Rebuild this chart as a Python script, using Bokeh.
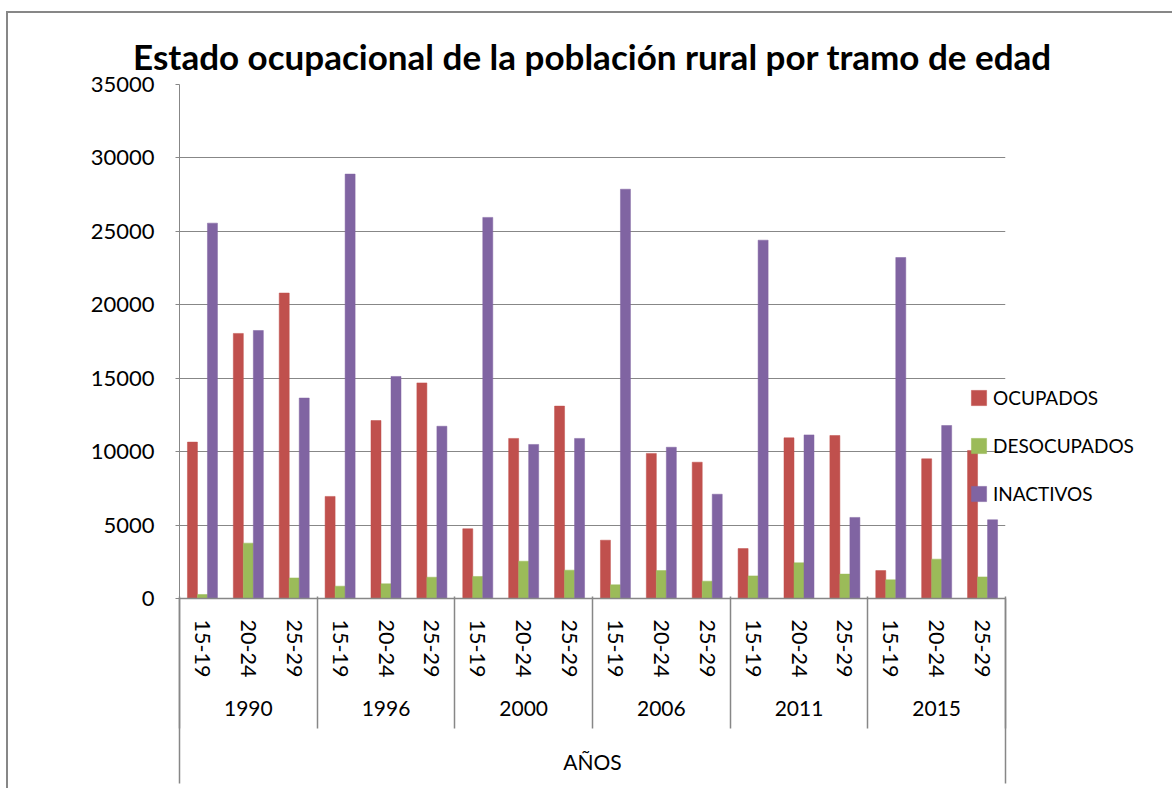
from bokeh.plotting import figure
from bokeh.models import (FactorRange, Range1d, Legend, LegendItem, LinearAxis, FixedTicker,
                          SingleIntervalTicker, ColumnDataSource)
from bokeh.transform import dodge
from bokeh.embed import file_html
from bokeh.resources import INLINE

# ---------------- data ----------------
years = ["1990", "1996", "2000", "2006", "2011", "2015"]
ages = ["15-19", "20-24", "25-29"]
series_names = ["OCUPADOS", "DESOCUPADOS", "INACTIVOS"]
ocupados = [10650, 18050, 20800, 6950, 12120, 14680, 4750, 10900, 13100,
            3970, 9880, 9280, 3400, 10940, 11100, 1900, 9510, 10080]
desocupados = [270, 3770, 1400, 840, 1000, 1450, 1500, 2540, 1930,
               930, 1900, 1180, 1540, 2430, 1660, 1270, 2680, 1470]
inactivos = [25560, 18250, 13650, 28900, 15120, 11730, 25950, 10490, 10900,
             27870, 10300, 7100, 24400, 11140, 5520, 23220, 11780, 5360]
title_text = "Estado ocupacional de la población rural por tramo de edad"
x_title = "AÑOS"

# ---------------- styles ----------------
colors = ["#C0504D", "#9BBB59", "#8064A2"]
GRAY = "#878787"
FONT = "Lato"

factors = [(y, a) for y in years for a in ages]
src = ColumnDataSource(dict(x=factors, ocupados=ocupados,
                            desocupados=desocupados, inactivos=inactivos))

p = figure(x_range=FactorRange(*factors, group_padding=0, range_padding=0, factor_padding=0),
           y_range=Range1d(0, 35000), frame_width=826, frame_height=514,
           output_backend="svg", toolbar_location=None,
           min_border_left=179, min_border_right=159, min_border_top=73, min_border_bottom=190)
p.styles = {"margin-top": "11px",
            "box-shadow": "inset 6px 0 0 0 white, inset 8px 2px 0 0 #878787"}
p.outline_line_color = None
p.background_fill_color = "white"
p.border_fill_alpha = 0

# title
p.title.text = title_text
p.title.text_font = FONT
p.title.text_font_size = "35px"
p.title.text_font_style = "bold"
p.title.text_color = "black"
p.title.align = "center"
p.title.offset = 4
p.title.standoff = 15

bw = 0.218
renderers = []
for col, off, c in zip(["ocupados", "desocupados", "inactivos"], [-bw, 0, bw], colors):
    r = p.vbar(x=dodge("x", off, range=p.x_range), top=col, width=bw, source=src,
               fill_color=c, line_color=c, line_width=0.5)
    renderers.append(r)

# y axis
p.yaxis.ticker = SingleIntervalTicker(interval=5000, num_minor_ticks=0)
p.yaxis.axis_line_color = GRAY
p.yaxis.major_tick_line_color = GRAY
p.yaxis.major_tick_out = 4
p.yaxis.major_tick_in = 0
p.yaxis.minor_tick_line_color = None
p.yaxis.major_label_standoff = 21
p.yaxis.major_label_text_font = FONT
p.yaxis.major_label_text_font_size = "22px"
p.yaxis.major_label_text_color = "black"

p.ygrid.grid_line_color = GRAY
p.ygrid.grid_line_width = 1.2
p.xgrid.grid_line_color = None

# main categorical x axis (age labels + year labels)
xa = p.xaxis[0]
xa.axis_line_color = GRAY
xa.axis_line_width = 1.5
xa.major_tick_line_color = None
xa.major_tick_out = 0
xa.major_tick_in = 0
xa.minor_tick_line_color = None
xa.major_label_orientation = "vertical"
xa.major_label_standoff = 21
xa.major_label_text_font = FONT
xa.major_label_text_font_size = "21.5px"
xa.major_label_text_color = "black"
xa.group_text_font = FONT
xa.group_text_font_size = "21px"
xa.group_text_font_style = "normal"
xa.group_text_color = "black"
xa.group_label_orientation = "horizontal"
xa.separator_line_color = None

E1 = 122.5  # extent of the category axis

# separators between years + axis title
n_age = len(ages)
sep_axis = LinearAxis(ticker=FixedTicker(ticks=[i * n_age for i in range(len(years) + 1)]),
                      axis_line_color=None, minor_tick_line_color=None,
                      major_tick_line_color=GRAY, major_tick_line_width=1.5,
                      major_tick_in=123, major_tick_out=9,
                      major_label_text_font_size="1px", major_label_text_alpha=0,
                      major_label_standoff=0,
                      axis_label=x_title, axis_label_text_font=FONT,
                      axis_label_text_font_size="21px", axis_label_text_font_style="normal",
                      axis_label_text_color="black", axis_label_standoff=20)
p.add_layout(sep_axis, "below")

edge_axis = LinearAxis(ticker=FixedTicker(ticks=[0, len(factors)]),
                       axis_line_color=None, minor_tick_line_color=None,
                       major_tick_line_color=GRAY, major_tick_line_width=1.5,
                       major_tick_in=178, major_tick_out=7,
                       major_label_text_font_size="1px", major_label_text_alpha=0,
                       major_label_standoff=0)
p.add_layout(edge_axis, "below")

# legend
legend = Legend(items=[LegendItem(label=n, renderers=[r]) for n, r in zip(series_names, renderers)],
                location=(-36, 93), orientation="vertical",
                glyph_width=19, glyph_height=19, label_standoff=5,
                padding=0, margin=0, spacing=25,
                label_text_font=FONT, label_text_font_size="19px", label_text_color="black",
                background_fill_alpha=0, border_line_alpha=0)
p.add_layout(legend, "right")

open("out.html", "w").write(file_html(p, INLINE))
